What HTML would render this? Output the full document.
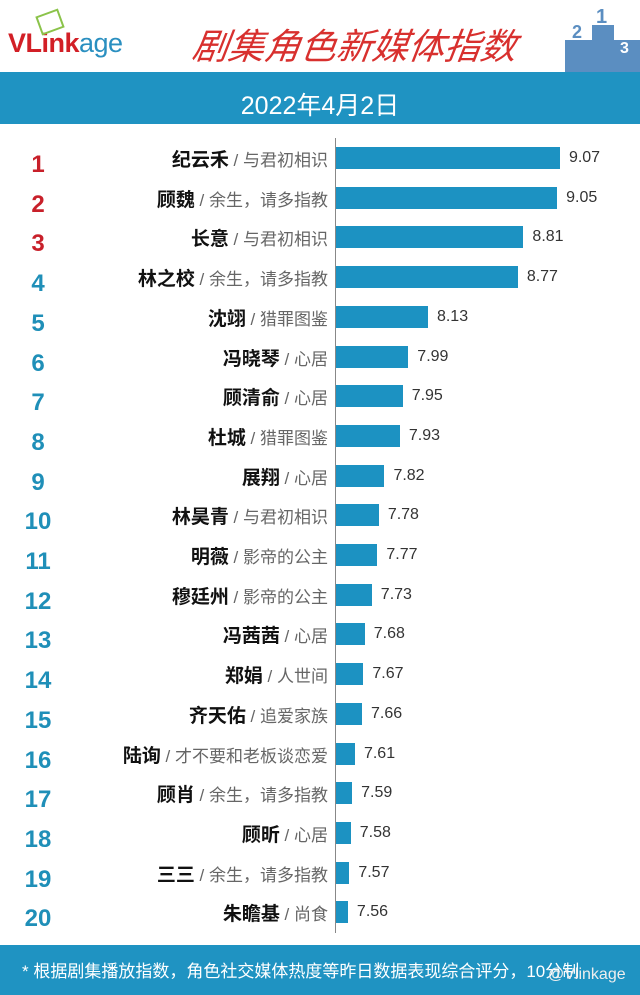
<!DOCTYPE html>
<html><head><meta charset="utf-8"><style>
body{margin:0;width:640px;height:995px;background:#fff;position:relative;overflow:hidden;font-family:"Liberation Sans","Noto Sans CJK SC",sans-serif;}
.a{position:absolute;}
.rk{position:absolute;left:8px;width:60px;text-align:center;font-weight:bold;font-size:24px;color:#1f8fb8;}
.lb{position:absolute;right:312px;white-space:nowrap;text-align:right;font-size:17px;color:#666;}
.lb b{color:#111;font-size:19px;}
.bar{position:absolute;left:336px;height:22px;background:#1c92c2;}
.v{position:absolute;font-size:16px;color:#333;}
</style></head><body>
<div class="a" style="left:0;top:0;width:640px;height:72px;background:#fff"></div>
<div class="a" style="left:8px;top:28px;font-size:27px;font-weight:bold;letter-spacing:-0.5px"><span style="color:#d21f26">VLink</span><span style="color:#2a8fc0;font-weight:normal">age</span></div>
<div class="a" style="left:38px;top:12px;width:20px;height:16px;border:2px solid #8bc34a;transform:rotate(-20deg)"></div>
<div class="a" style="left:185px;top:18px;width:340px;text-align:center;font-size:36px;color:#d8302e;font-style:italic;font-family:'Noto Sans CJK SC',sans-serif;transform:skewX(-8deg)">剧集角色新媒体指数</div>
<div class="a" style="left:565px;top:40px;width:75px;height:32px;background:#5b8ec1"></div>
<div class="a" style="left:592px;top:25px;width:22px;height:20px;background:#5b8ec1"></div>
<div class="a" style="left:572px;top:22px;font-size:18px;font-weight:bold;color:#5b8ec1">2</div>
<div class="a" style="left:596px;top:6px;font-size:20px;font-weight:bold;color:#5b8ec1">1</div>
<div class="a" style="left:620px;top:40px;font-size:16px;font-weight:bold;color:#fff">3</div>
<div class="a" style="left:0;top:72px;width:640px;height:52px;background:#1f93c2"></div>
<div class="a" style="left:0;top:86px;width:640px;text-align:center;font-size:25px;color:#fff">2022年4月2日</div>
<div class="a" style="left:335px;top:138px;width:1px;height:795px;background:#888"></div>
<div class="a" style="left:0;top:945px;width:640px;height:50px;background:#1f93c2"></div>
<div class="a" style="left:22px;top:957px;font-size:17px;color:#fff;white-space:nowrap">* 根据剧集播放指数，角色社交媒体热度等昨日数据表现综合评分，10分制</div>
<div class="a" style="left:548px;top:966px;font-size:16px;color:#eee">@Vlinkage</div>
<div id="rows"></div>
<script>
var d=[["纪云禾","与君初相识",9.07],["顾魏","余生，请多指教",9.05],["长意","与君初相识",8.81],["林之校","余生，请多指教",8.77],["沈翊","猎罪图鉴",8.13],["冯晓琴","心居",7.99],["顾清俞","心居",7.95],["杜城","猎罪图鉴",7.93],["展翔","心居",7.82],["林昊青","与君初相识",7.78],["明薇","影帝的公主",7.77],["穆廷州","影帝的公主",7.73],["冯茜茜","心居",7.68],["郑娟","人世间",7.67],["齐天佑","追爱家族",7.66],["陆询","才不要和老板谈恋爱",7.61],["顾肖","余生，请多指教",7.59],["顾昕","心居",7.58],["三三","余生，请多指教",7.57],["朱瞻基","尚食",7.56]];
var h="";
for(var i=0;i<20;i++){var c=158+i*39.7;var w=(d[i][2]-7.475)*140.4;
h+='<div class="rk" style="top:'+(c-7)+'px;'+(i<3?'color:#c8202a':'')+'">'+(i+1)+'</div>';
h+='<div class="lb" style="top:'+(c-13)+'px"><b>'+d[i][0]+'</b> / '+d[i][1]+'</div>';
h+='<div class="bar" style="top:'+(c-11)+'px;width:'+w+'px"></div>';
h+='<div class="v" style="top:'+(c-9)+'px;left:'+(345+w)+'px">'+d[i][2].toFixed(2)+'</div>';}
document.getElementById('rows').innerHTML=h;
</script>
</body></html>
